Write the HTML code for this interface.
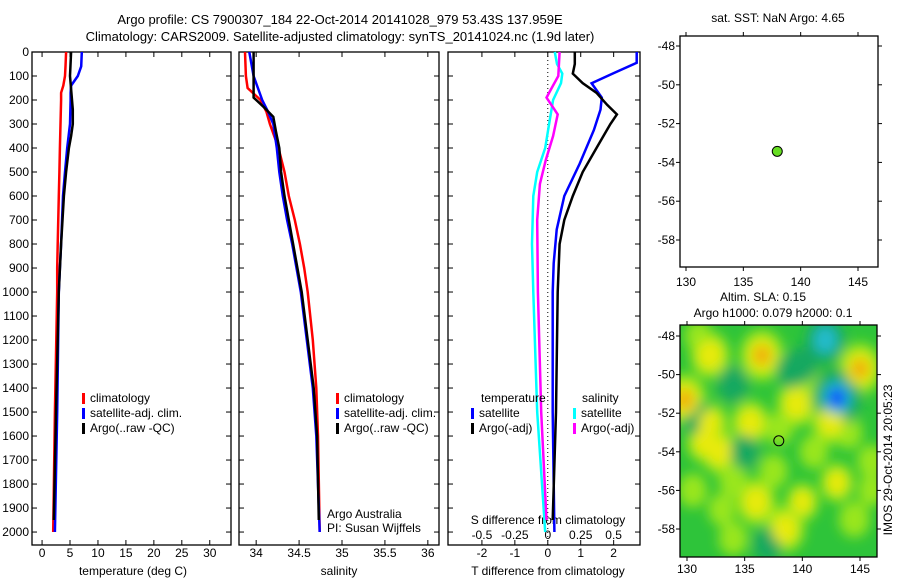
<!DOCTYPE html>
<html><head><meta charset="utf-8"><style>
body{margin:0;background:#fff;}
svg{display:block;font-family:"Liberation Sans",sans-serif;font-size:12px;}
</style></head><body>
<svg id="c" width="900" height="580"></svg>
<script>
// ---- data ----
const tDepth=[0,60,100,140,170,200,300,400,500,600,800,900,1000,1500,2000];
const tClim=[4.3,4.2,4.1,3.8,3.4,3.4,3.3,3.2,3.1,3.0,2.8,2.7,2.7,2.3,2.0];
const tSat=[7.1,7.0,6.4,5.2,5.1,5.1,5.0,4.5,4.1,3.75,3.4,3.2,3.0,2.7,2.3];
const argoDepth=[0,100,240,300,350,400,500,600,800,1000,1500,1950];
const tArgo=[5.2,5.0,5.5,5.5,5.2,4.8,4.3,3.9,3.4,3.0,2.5,2.1];
const sDepth=[0,100,150,200,250,300,400,500,600,700,800,900,1000,1200,1400,1600,2000];
const sClim=[33.87,33.88,33.9,34.05,34.12,34.16,34.26,34.33,34.38,34.45,34.51,34.56,34.6,34.66,34.7,34.72,34.74];
const sSat=[33.92,33.97,34.02,34.07,34.14,34.2,34.24,34.27,34.31,34.36,34.42,34.47,34.52,34.59,34.66,34.7,34.74];
const sArgoDepth=[0,190,230,270,330,400,500,600,700,800,900,1000,1200,1400,1600,1950];
const sArgo=[33.97,33.97,34.09,34.2,34.23,34.27,34.29,34.33,34.38,34.43,34.48,34.53,34.6,34.67,34.71,34.73];
const dDepth=[0,45,88,130,190,240,325,465,600,740,880,1000,1500,2000];
const dTSat=[2.7,2.7,2.0,1.33,1.64,1.6,1.4,0.97,0.5,0.27,0.18,0.15,0.15,0.2];
const dADepth=[0,50,90,130,170,220,260,300,400,500,600,700,800,1000,1500,1950];
const dTArgo=[0.82,0.82,0.76,1.06,1.48,1.8,2.1,1.9,1.48,1.06,0.76,0.5,0.36,0.3,0.25,0.15];
const cDepth=[0,50,90,130,200,300,400,500,600,800,1000,1500,2000];
const dSSat=[0.053,0.07,0.11,0.1,0.04,0.01,-0.02,-0.08,-0.11,-0.12,-0.11,-0.08,-0.02];
const mDepth=[0,100,150,190,260,350,450,550,700,1000,1500,1950];
const dSArgo=[0.09,0.08,0.03,-0.01,0.075,0.04,-0.015,-0.06,-0.08,-0.075,-0.05,-0.01];
const depthTicks=[0,100,200,300,400,500,600,700,800,900,1000,1100,1200,1300,1400,1500,1600,1700,1800,1900,2000];
const tTicks=[0,5,10,15,20,25,30];
const sTicks=[34,34.5,35,35.5,36];
const dTTicks=[-2,-1,0,1,2];
const dSTicks=[-0.5,-0.25,0,0.25,0.5];
const lonTicks=[130,135,140,145];
const latTicks=[-48,-50,-52,-54,-56,-58];
const argoLon=137.959, argoLat=-53.43;
// SLA blobs: lon, lat, value
const blobLon=[132,136.5,145,129.8,132,135.5,139.5,142.5,131.5,132.8,136,138.5,143,140,144.5,137.5,130.5,134,141,146,134,144,138,140.5,131,133,146,134,131,140,142,143,137,135,139];
const blobLat=[-49,-49,-49.7,-51.3,-52.5,-52.5,-51.5,-52.4,-53.5,-54,-56.6,-58,-55.6,-56.6,-57.5,-55,-56,-55.5,-54,-54.5,-58.5,-53,-52.8,-50.5,-48,-57,-56,-50.5,-52.3,-49.5,-48.2,-51.2,-58.8,-54,-49.8];
const blobVal=[2,2.5,2.5,2.5,1.4,1.8,2,2,1.5,1.8,2,2,1.3,1.2,1,0.8,0.8,0.8,0.8,0.8,0.8,0.7,0.7,0.6,0.6,0.6,0.6,-1,-1,-1,-2,-3,-0.8,-0.8,-0.8];

// ---- helpers ----
const NS='http://www.w3.org/2000/svg';
const svg=document.getElementById('c');
function el(t,a,p){const e=document.createElementNS(NS,t);for(const k in a)e.setAttribute(k,a[k]);(p||svg).appendChild(e);return e;}
function txt(x,y,s,anchor,p,name){const e=el('text',{x:x,y:y,'text-anchor':anchor||'start'},p);e.textContent=s;

return e;}
const Y0=52,Y1=545,DMAX=2054;
const yD=d=>Y0+(d/DMAX)*(Y1-Y0);
function panel(x0,x1,vmin,vmax,name){
  const r=el('rect',{x:x0,y:Y0,width:x1-x0,height:Y1-Y0,fill:'none',stroke:'#000','stroke-width':1.3});
  
  
  const sx=v=>x0+(v-vmin)/(vmax-vmin)*(x1-x0);
  depthTicks.forEach(d=>{el('line',{x1:x0,x2:x0+5,y1:yD(d),y2:yD(d),stroke:'#000'});el('line',{x1:x1,x2:x1-5,y1:yD(d),y2:yD(d),stroke:'#000'});});
  return sx;
}
function line(xs,ds,sx,col,name){
  const pts=xs.map((v,i)=>sx(v).toFixed(1)+','+yD(ds[i]).toFixed(1)).join(' ');
  const p=el('polyline',{points:pts,fill:'none',stroke:col,'stroke-width':2.5});
  
  
}
// titles
txt(340,24,'Argo profile: CS 7900307_184 22-Oct-2014 20141028_979 53.43S 137.959E','middle',null,'title-line-1').setAttribute('font-size','13');
txt(340,41,'Climatology: CARS2009. Satellite-adjusted climatology: synTS_20141024.nc (1.9d later)','middle',null,'title-line-2').setAttribute('font-size','13');

// panel 1
const sxT=panel(32,231,-1.8,33.8,'temperature-panel');
depthTicks.forEach(d=>txt(29,yD(d)+4,String(d),'end',null,'depth-tick-label'));
tTicks.forEach(v=>{txt(sxT(v),557,String(v),'middle',null,'temp-tick-label');el('line',{x1:sxT(v),x2:sxT(v),y1:Y1,y2:Y1-5,stroke:'#000'});el('line',{x1:sxT(v),x2:sxT(v),y1:Y0,y2:Y0+5,stroke:'#000'});});
txt(133,575,'temperature (deg C)','middle',null,'x-axis-title-temperature');
line(tClim,tDepth,sxT,'#f00','temp-climatology-line');
line(tSat,tDepth,sxT,'#00f','temp-satellite-line');
line(tArgo,argoDepth,sxT,'#000','temp-argo-line');
// panel 2
const sxS=panel(239,439,33.8,36.13,'salinity-panel');
sTicks.forEach(v=>{txt(sxS(v),557,String(v),'middle',null,'salinity-tick-label');el('line',{x1:sxS(v),x2:sxS(v),y1:Y1,y2:Y1-5,stroke:'#000'});el('line',{x1:sxS(v),x2:sxS(v),y1:Y0,y2:Y0+5,stroke:'#000'});});
txt(339,575,'salinity','middle',null,'x-axis-title-salinity');
line(sClim,sDepth,sxS,'#f00','sal-climatology-line');
line(sSat,sDepth,sxS,'#00f','sal-satellite-line');
line(sArgo,sArgoDepth,sxS,'#000','sal-argo-line');
txt(327,518,'Argo Australia','start',null,'institution-label');
txt(327,532,'PI: Susan Wijffels','start',null,'pi-label');
// panel 3
const sxD=panel(448,640,-3.03,2.8,'difference-panel');
const sxDS=v=>sxD(v*4);
dTTicks.forEach(v=>{txt(sxD(v),557,String(v),'middle',null,'tdiff-tick-label');el('line',{x1:sxD(v),x2:sxD(v),y1:Y1,y2:Y1-5,stroke:'#000'});el('line',{x1:sxD(v),x2:sxD(v),y1:Y0,y2:Y0+5,stroke:'#000'});});
dSTicks.forEach(v=>txt(sxDS(v),539,String(v),'middle',null,'sdiff-tick-label'));
txt(548,524,'S difference from climatology','middle',null,'sdiff-axis-title');
txt(548,575,'T difference from climatology','middle',null,'x-axis-title-tdiff');
el('line',{x1:sxD(0),x2:sxD(0),y1:Y0,y2:Y1,stroke:'#000','stroke-dasharray':'1,3'});
line(dSSat,cDepth,sxDS,'#0ff','sdiff-satellite-line');
line(dSArgo,mDepth,sxDS,'#f0f','sdiff-argo-line');
line(dTSat,dDepth,sxD,'#00f','tdiff-satellite-line');
line(dTArgo,dADepth,sxD,'#000','tdiff-argo-line');
// legends
function leg(x,y,col,label,name){el('rect',{x:x,y:y-9,width:3,height:11,fill:col});txt(x+8,y,label,'start',null,name);}
[[82,'#f00','climatology'],[82,'#00f','satellite-adj. clim.'],[82,'#000','Argo(..raw -QC)']].forEach((a,i)=>leg(a[0],402+i*15,a[1],a[2],'legend-entry'));
[[336,'#f00','climatology'],[336,'#00f','satellite-adj. clim.'],[336,'#000','Argo(..raw -QC)']].forEach((a,i)=>leg(a[0],402+i*15,a[1],a[2],'legend-entry'));
txt(481,402,'temperature','start',null,'legend-title-temperature');
txt(582,402,'salinity','start',null,'legend-title-salinity');
leg(471,417,'#00f','satellite','legend-entry');leg(471,432,'#000','Argo(-adj)','legend-entry');
leg(573,417,'#0ff','satellite','legend-entry');leg(573,432,'#f0f','Argo(-adj)','legend-entry');

// maps
function map(x0,y0,x1,y1,lx,ly,name,lo){
  const lonx=v=>lx[0]+(v-130)*(lx[1]-lx[0])/15;
  const laty=v=>ly[0]+(-48-v)*(ly[1]-ly[0])/10;
  return {lonx,laty,draw(){
    const r=el('rect',{x:x0,y:y0,width:x1-x0,height:y1-y0,fill:'none',stroke:'#000','stroke-width':1.3});
    
    
    lonTicks.forEach(v=>{txt(lonx(v),y1+lo,String(v),'middle',null,'lon-tick-label');el('line',{x1:lonx(v),x2:lonx(v),y1:y0,y2:y0-4,stroke:'#000'});el('line',{x1:lonx(v),x2:lonx(v),y1:y1,y2:y1+4,stroke:'#000'});});
    latTicks.forEach(v=>{txt(x0-5,laty(v)+4,String(v),'end',null,'lat-tick-label');el('line',{x1:x0,x2:x0-4,y1:laty(v),y2:laty(v),stroke:'#000'});el('line',{x1:x1,x2:x1+4,y1:laty(v),y2:laty(v),stroke:'#000'});});
  }};
}
const m1=map(680,36,878,267,[686,858],[46,240],'sst-map',19);
m1.draw();
txt(778,22,'sat. SST: NaN Argo: 4.65','middle',null,'sst-map-title');
const dot=el('circle',{cx:m1.lonx(argoLon),cy:m1.laty(argoLat),r:5,fill:'#66dd22',stroke:'#000'});



const m2=map(680,325,877,557,[687,860],[336,529],'sla-map',16);
const defs=el('defs',{});
const cp=el('clipPath',{id:'clp'},defs);el('rect',{x:680,y:325,width:197,height:232},cp);
const f=el('filter',{id:'bl',x:'-50%',y:'-50%',width:'200%',height:'200%'},defs);el('feGaussianBlur',{stdDeviation:6},f);
const g=el('g',{'clip-path':'url(#clp)'});


el('rect',{x:680,y:325,width:197,height:232,fill:'#2ec43a'},g);
const gb=el('g',{filter:'url(#bl)'},g);
[[0],[1],[2]].forEach(([k])=>{
blobVal.forEach((v,i)=>{
  const cx=m2.lonx(blobLon[i]),cy=m2.laty(blobLat[i]);
  const layers=v>0?[['#99e61a',1.0],['#e8ea10',0.65],['#f0a010',0.35]]:[['#16a860',1.0],['#22bbcc',0.6],['#1040ff',0.35]];
  const n=Math.min(3,Math.ceil(Math.abs(v)));
  if(k>=n)return;
  const s=layers[k][1]*(10+Math.abs(v)*4);
  const e=el('ellipse',{cx:cx,cy:cy,rx:s*1.1,ry:s*1.3,fill:layers[k][0]},gb);
  
  
});
});
m2.draw();
const c2=el('circle',{cx:m2.lonx(argoLon),cy:m2.laty(argoLat),r:5,fill:'none',stroke:'#000'});


txt(763,301,'Altim. SLA: 0.15','middle',null,'sla-map-title');
txt(773,317,'Argo h1000: 0.079 h2000: 0.1','middle',null,'sla-map-subtitle');
const st=txt(0,0,'IMOS 29-Oct-2014 20:05:23','middle',null,'timestamp-label');
st.setAttribute('transform','translate(892,460) rotate(-90)');
</script>
</body></html>
